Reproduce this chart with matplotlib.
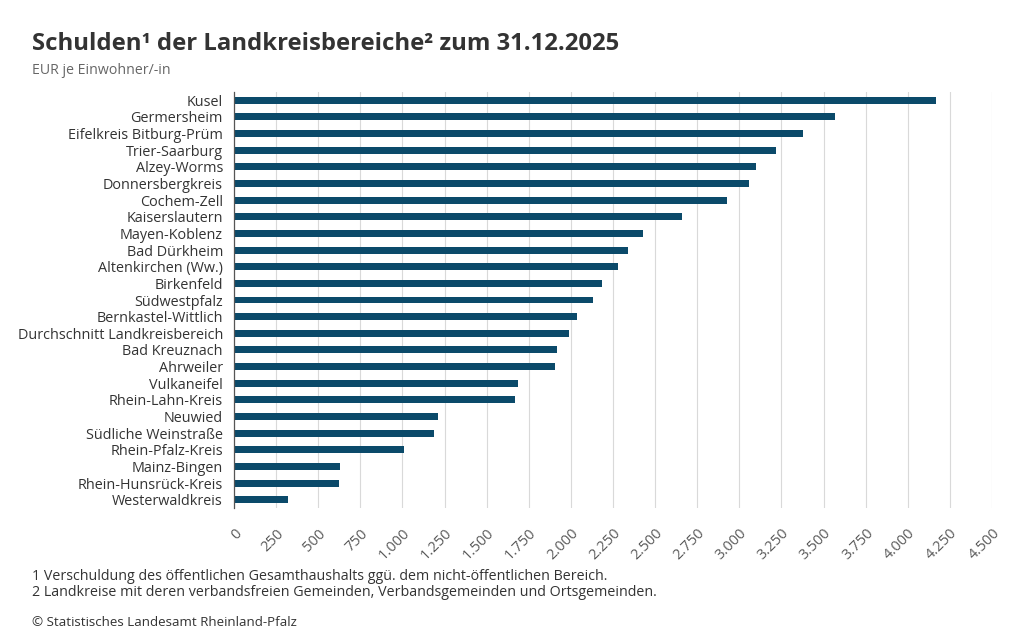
import matplotlib
matplotlib.use("Agg")
import matplotlib.pyplot as plt
from matplotlib.ticker import FuncFormatter, MultipleLocator

plt.rcParams['font.family'] = ['Open Sans', 'DejaVu Sans']

# Daten (EUR je Einwohner/-in), von oben nach unten
kreise = [
    "Kusel", "Germersheim", "Eifelkreis Bitburg-Prüm", "Trier-Saarburg",
    "Alzey-Worms", "Donnersbergkreis", "Cochem-Zell", "Kaiserslautern",
    "Mayen-Koblenz", "Bad Dürkheim", "Altenkirchen (Ww.)", "Birkenfeld",
    "Südwestpfalz", "Bernkastel-Wittlich", "Durchschnitt Landkreisbereich",
    "Bad Kreuznach", "Ahrweiler", "Vulkaneifel", "Rhein-Lahn-Kreis",
    "Neuwied", "Südliche Weinstraße", "Rhein-Pfalz-Kreis", "Mainz-Bingen",
    "Rhein-Hunsrück-Kreis", "Westerwaldkreis",
]
schulden = [
    4165, 3565, 3378, 3217, 3098, 3060, 2925, 2660, 2428, 2342,
    2281, 2187, 2130, 2037, 1989, 1918, 1908, 1687, 1668, 1209,
    1187, 1009, 628, 626, 320,
]

bar_color = "#0b4a6a"
text_color = "#333333"

fig = plt.figure(figsize=(10.24, 6.35), dpi=100)
ax = fig.add_axes([234 / 1024, 1 - 508 / 635, (992 - 234) / 1024, (508 - 92) / 635])

y = list(range(len(kreise)))
ax.barh(y, schulden, height=0.42, color=bar_color, zorder=3)
ax.set_ylim(len(kreise) - 0.5, -0.5)
ax.set_yticks(y)
ax.set_yticklabels(kreise, fontsize=10.4, color=text_color)

ax.set_xlim(0, 4500)
ax.xaxis.set_major_locator(MultipleLocator(250))
ax.xaxis.set_major_formatter(FuncFormatter(lambda v, p: f"{int(v):,}".replace(",", ".")))
for lbl in ax.get_xticklabels():
    lbl.set_rotation(45)
    lbl.set_ha("right")
    lbl.set_rotation_mode("anchor")
    lbl.set_fontsize(10.5)
    lbl.set_color("#5a5a5a")

ax.tick_params(axis="both", length=0)
ax.tick_params(axis="x", pad=13)
ax.tick_params(axis="y", pad=8)
ax.grid(axis="x", color="#d9d9d9", linewidth=0.8, zorder=0)
for s in ["top", "right", "bottom"]:
    ax.spines[s].set_visible(False)
ax.spines["left"].set_color("#555555")
ax.spines["left"].set_linewidth(0.9)
ax.spines["left"].set_zorder(4)

fig.text(32 / 1024, 1 - 44 / 635, "Schulden¹ der Landkreisbereiche² zum 31.12.2025",
         fontsize=17.2, fontweight="bold", color=text_color, va="center")
fig.text(32 / 1024, 1 - 71 / 635, "EUR je Einwohner/-in", fontsize=10.2,
         color="#666666", va="center")

fig.text(32 / 1024, 1 - 577 / 635,
         "1 Verschuldung des öffentlichen Gesamthaushalts ggü. dem nicht-öffentlichen Bereich.",
         fontsize=10.3, color=text_color, va="center")
fig.text(32 / 1024, 1 - 592 / 635,
         "2 Landkreise mit deren verbandsfreien Gemeinden, Verbandsgemeinden und Ortsgemeinden.",
         fontsize=10.3, color=text_color, va="center")
fig.text(32 / 1024, 1 - 622 / 635, "© Statistisches Landesamt Rheinland-Pfalz",
         fontsize=9.6, color=text_color, va="center")

fig.savefig("out.png", dpi=100)
